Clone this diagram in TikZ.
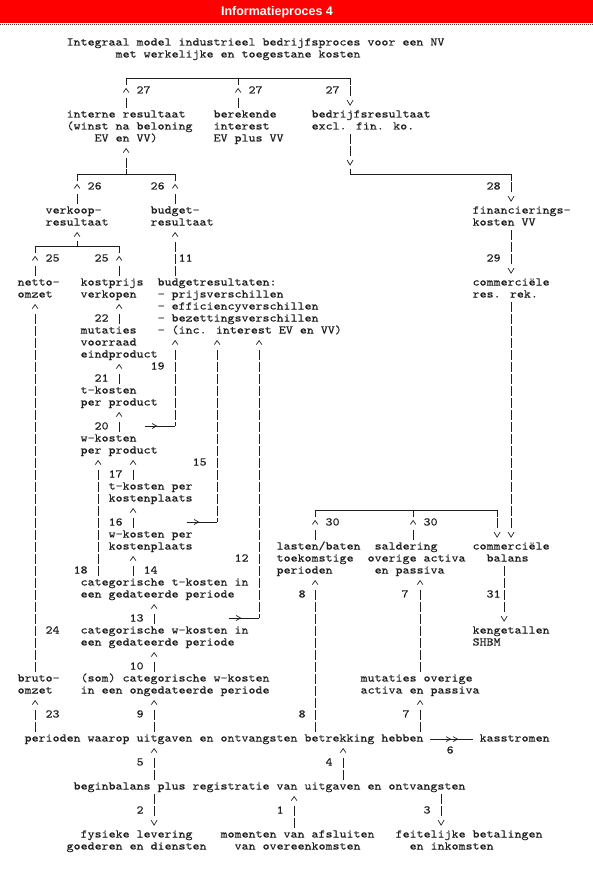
\documentclass[tikz,border=0pt]{standalone}
\usepackage{fontspec}
\usetikzlibrary{decorations.markings}
\newfontfamily\courfont{lmmono10-regular.otf}[FakeStretch=1.149, FakeBold=0.3]
\newfontfamily\headfont{Liberation Sans}
\definecolor{ired}{RGB}{255,0,0}
\definecolor{inkgray}{RGB}{30,30,30}
\newcommand{\tb}[1]{\begin{tabular}[t]{@{}l@{}}#1\end{tabular}}
\newcommand{\ind}[1]{\hspace*{#1\dimexpr7pt\relax}}

\begin{document}
\begin{tikzpicture}[
  x=1pt, y=-1pt,
  txt/.style={anchor=base west, yshift=-2.5pt, inner sep=0pt, outer sep=0pt,
    text=inkgray, font=\fontsize{11.6pt}{12pt}\courfont},
  wire/.style={draw=inkgray, line width=0.7pt},
  bars/.style={wire, dash pattern=on 10pt off 2pt, dash phase=11pt},
  hat/.style={bars, shorten >=12pt, postaction={decorate, decoration={markings,
    mark=at position 1 with {\draw[wire, solid, shorten >=0pt, shorten <=0pt]
      (-7.5pt,2.8pt) -- (-3.5pt,0pt) -- (-7.5pt,-2.8pt);}}}},
  vee/.style={bars, shorten >=12pt, postaction={decorate, decoration={markings,
    mark=at position 1 with {\draw[wire, solid, shorten >=0pt, shorten <=0pt]
      (-9pt,3pt) -- (-4pt,0pt) -- (-9pt,-3pt);}}}},
  gt/.style={wire, postaction={decorate, decoration={markings,
    mark=at position 12pt with {\draw[wire] (-4.5pt,2.5pt) -- (0pt,0pt) -- (-4.5pt,-2.5pt);}}}},
  gtgt/.style={wire, shorten <=7pt, shorten >=7pt, postaction={decorate, decoration={markings,
    mark=at position 27pt with {\draw[wire, shorten >=0pt, shorten <=0pt] (-4.5pt,2.5pt) -- (0pt,0pt) -- (-4.5pt,-2.5pt);},
    mark=at position 34pt with {\draw[wire, shorten >=0pt, shorten <=0pt] (-4.5pt,2.5pt) -- (0pt,0pt) -- (-4.5pt,-2.5pt);}}}}
]

% TITLE BAR
\useasboundingbox (0,0) rectangle (593,869);
\fill[ired] (0,0) rectangle (593,23.3);
\draw[black!75, line width=0.8pt, dash pattern=on 1pt off 1pt] (0,24.4) -- (593,24.4);
\node[anchor=base, inner sep=0pt, text=white, font=\headfont\bfseries\fontsize{12.5pt}{14pt}\selectfont]
  (title) at (277,15.9) {Informatieproces 4};

% COLUMNS OF THE CONNECTORS
\foreach \c in {2,8,11,14,15,16,19,22,28,31,34,39,42,46,47,56,57,60,68,69,70}
  \coordinate (col\c) at ({21.1+7*\c},0);

% TEXT BLOCKS
\node[txt] (head) at (66.6,43) {\tb{Integraal model industrieel bedrijfsproces voor een NV\\\ind{7}met werkelijke en toegestane kosten}};
\node[txt] (interne) at (66.6,115) {\tb{interne resultaat\\(winst na beloning\\\ind{4}EV en VV)}};
\node[txt] (interest) at (213.6,115) {\tb{berekende\\interest\\EV plus VV}};
\node[txt] (bedrijf) at (311.6,115) {\tb{bedrijfsresultaat\\excl. fin. ko.}};
\node[txt] (verkoop) at (45.6,211) {\tb{verkoop-\\resultaat}};
\node[txt] (budget) at (150.6,211) {\tb{budget-\\resultaat}};
\node[txt] (financ) at (472.6,211) {\tb{financierings-\\kosten VV}};
\node[txt] (netto) at (17.6,283) {\tb{netto-\\omzet}};
\node[txt] (kostprijs) at (80.6,283) {\tb{kostprijs\\verkopen}};
\node[txt] (budres) at (157.6,283) {\tb{budgetresultaten:\\- prijsverschillen\\- efficiencyverschillen\\- bezettingsverschillen\\- (inc. interest EV en VV)}};
\node[txt] (comres) at (472.6,283) {\tb{commerciële\\res. rek.}};
\node[txt] (mutvoor) at (80.6,331) {\tb{mutaties\\voorraad\\eindproduct}};
\node[txt] (tkprod) at (80.6,391) {\tb{t-kosten\\per product}};
\node[txt] (wkprod) at (80.6,439) {\tb{w-kosten\\per product}};
\node[txt] (tkplaats) at (108.6,487) {\tb{t-kosten per\\kostenplaats}};
\node[txt] (wkplaats) at (108.6,535) {\tb{w-kosten per\\kostenplaats}};
\node[txt] (lasten) at (276.6,547) {\tb{lasten/baten\\toekomstige\\perioden}};
\node[txt] (saldering) at (367.6,547) {\tb{\ind{1}saldering\\overige activa\\\ind{1}en passiva}};
\node[txt] (combal) at (472.6,547) {\tb{commerciële\\\ind{2}balans}};
\node[txt] (catt) at (80.6,583) {\tb{categorische t-kosten in\\een gedateerde periode}};
\node[txt] (catw) at (80.6,631) {\tb{categorische w-kosten in\\een gedateerde periode}};
\node[txt] (kengetal) at (472.6,631) {\tb{kengetallen\\SHBM}};
\node[txt] (bruto) at (17.6,679) {\tb{bruto-\\omzet}};
\node[txt] (catsom) at (80.6,679) {\tb{(som) categorische w-kosten\\in een ongedateerde periode}};
\node[txt] (mutov) at (360.6,679) {\tb{mutaties overige\\activa en passiva}};
\node[txt] (perioden) at (24.6,739) {\tb{perioden waarop uitgaven en ontvangsten betrekking hebben}};
\node[txt] (kas) at (479.6,739) {\tb{kasstromen}};
\node[txt] (begin) at (73.6,787) {\tb{beginbalans plus registratie van uitgaven en ontvangsten}};
\node[txt] (fysiek) at (66.6,835) {\tb{\ind{2}fysieke levering\\goederen en diensten}};
\node[txt] (momenten) at (220.6,835) {\tb{momenten van afsluiten\\\ind{2}van overeenkomsten}};
\node[txt] (feitelijk) at (395.6,835) {\tb{feitelijke betalingen\\\ind{2}en inkomsten}};

% FLOW NUMBERS
\foreach \t/\x/\y [count=\i] in {27/136.6/91, 27/248.6/91, 27/325.6/91, 26/87.6/187, 26/150.6/187,
    28/486.6/187, 25/45.6/259, 25/94.6/259, 11/178.6/259, 29/486.6/259, 22/94.6/319, 19/150.6/367,
    21/94.6/379, 20/94.6/427, 15/192.6/463, 17/108.6/475, 16/108.6/523, 30/325.6/523, 30/423.6/523,
    12/234.6/559, 18/73.6/571, 14/143.6/571, 8/298.6/595, 7/401.6/595, 31/486.6/595, 13/129.6/619,
    24/45.6/631, 10/129.6/667, 23/45.6/715, 9/136.6/715, 8/298.6/715, 7/402.6/715, 6/446.6/751,
    5/136.6/763, 4/325.6/763, 2/136.6/811, 1/276.6/811, 3/423.6/811}
  \node[txt] (lab\i) at (\x,\y) {\t};

% 27: INTERN RESULTAAT + INTEREST
\coordinate (j27a) at (126.1,85);
\coordinate (j27b) at (238.1,85);
\coordinate (j27c) at (350.1,85);
\coordinate (l27) at (0,78);
\draw[hat] (interne.north -| j27a) -- (j27a);
\draw[hat] (interest.north -| j27b) -- (j27b);
\draw[wire] (j27a) -- (j27a |- l27) -- (j27c |- l27) -- (j27c);
\draw[wire] (j27b) -- (j27b |- l27);
\draw[vee] (j27c) -- (bedrijf.north -| j27c);

% 26
\coordinate (j26a) at (77.1,181);
\coordinate (j26b) at (175.1,181);
\coordinate (j26) at (126.1,169);
\coordinate (l26) at (0,174);
\draw[hat] (verkoop.north -| j26a) -- (j26a);
\draw[hat] (budget.north -| j26b) -- (j26b);
\draw[wire] (j26a) -- (j26a |- l26) -- (j26b |- l26) -- (j26b);
\draw[wire] (j26 |- l26) -- (j26);
\draw[hat] (j26) -- (interne.south -| j26);

% 28
\coordinate (j28a) at (350.1,169);
\coordinate (j28b) at (511.1,181);
\draw[vee] (bedrijf.south -| j28a) -- (j28a);
\draw[wire] (j28a) -- (j28a |- l26) -- (j28b |- l26) -- (j28b);
\draw[vee] (j28b) -- (financ.north -| j28b);

% 25
\coordinate (j25a) at (35.1,253);
\coordinate (j25b) at (119.1,253);
\coordinate (j25) at (77.1,241);
\coordinate (l25) at (0,246);
\draw[hat] (netto.north -| j25a) -- (j25a);
\draw[hat] (kostprijs.north -| j25b) -- (j25b);
\draw[wire] (j25a) -- (j25a |- l25) -- (j25b |- l25) -- (j25b);
\draw[wire] (j25 |- l25) -- (j25);
\draw[hat] (j25) -- (verkoop.south -| j25);

% 11, 29
\draw[hat] (budres.north -| col22) -- (budget.south -| col22);
\draw[vee] (financ.south -| col70) -- (comres.north -| col70);
\draw[vee] (comres.south -| col70) -- (combal.north -| col70);

% 24, 23
\draw[hat] (bruto.north -| col2) -- (netto.south -| col2);
\draw[hat] (perioden.north -| col2) -- (bruto.south -| col2);

% 22, 21, 20
\draw[hat] (mutvoor.north -| col14) -- (kostprijs.south -| col14);
\draw[hat] (tkprod.north -| col14) -- (mutvoor.south -| col14);
\draw[hat] (wkprod.north -| col14) -- (tkprod.south -| col14);

% 19, 15, 12: INTO BUDGETRESULTATEN
\coordinate (a19) at (144.5,426);
\coordinate (k19) at (a19 -| col22);
\draw[gt] (a19) -- (k19);
\draw[hat, dash phase=6pt] (k19) -- (budres.south -| k19);
\coordinate (a15) at (186.6,522);
\coordinate (k15) at (a15 -| col28);
\draw[gt] (a15) -- (k15);
\draw[hat, dash phase=6pt] (k15) -- (budres.south -| k15);
\coordinate (a12) at (228.6,618);
\coordinate (k12) at (a12 -| col34);
\draw[gt] (a12) -- (k12);
\draw[hat, dash phase=6pt] (k12) -- (budres.south -| k12);

% 17, 18, 16, 14
\draw[hat] (tkplaats.north -| col16) -- (wkprod.south -| col16);
\draw[hat] (catt.north -| col11) -- (wkprod.south -| col11);
\draw[hat] (wkplaats.north -| col16) -- (tkplaats.south -| col16);
\draw[hat] (catt.north -| col16) -- (wkplaats.south -| col16);

% 13, 10, 9
\draw[hat] (catw.north -| col19) -- (catt.south -| col19);
\draw[hat] (catsom.north -| col19) -- (catw.south -| col19);
\draw[hat] (perioden.north -| col19) -- (catsom.south -| col19);

% 30
\coordinate (j30a) at (315.1,517);
\coordinate (j30b) at (413.1,517);
\coordinate (j30c) at (497.1,517);
\coordinate (l30) at (0,510);
\draw[hat] (lasten.north -| j30a) -- (j30a);
\draw[hat] (saldering.north -| j30b) -- (j30b);
\draw[wire] (j30a) -- (j30a |- l30) -- (j30c |- l30) -- (j30c);
\draw[wire] (j30b) -- (j30b |- l30);
\draw[vee] (j30c) -- (combal.north -| j30c);

% 31, 8, 7
\draw[vee] (combal.south -| col69) -- (kengetal.north -| col69);
\draw[hat] (perioden.north -| col42) -- (lasten.south -| col42);
\draw[hat] (mutov.north -| col57) -- (saldering.south -| col57);
\draw[hat] (perioden.north -| col57) -- (mutov.south -| col57);

% 6
\draw[gtgt] (perioden.east) -- (kas.west);

% 5, 4, 2, 1, 3
\draw[hat] (begin.north -| col19) -- (perioden.south -| col19);
\draw[hat] (begin.north -| col46) -- (perioden.south -| col46);
\draw[vee] (begin.south -| col19) -- (fysiek.north -| col19);
\draw[hat] (momenten.north -| col39) -- (begin.south -| col39);
\draw[vee] (begin.south -| col60) -- (feitelijk.north -| col60);

\end{tikzpicture}
\end{document}
